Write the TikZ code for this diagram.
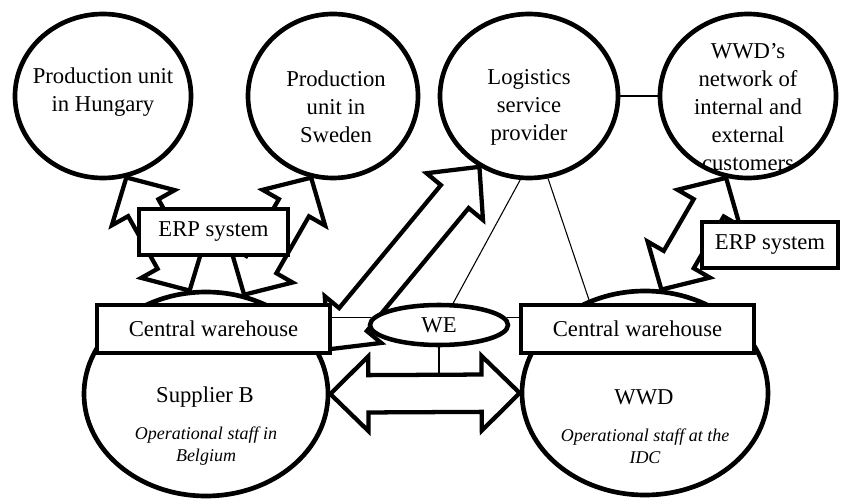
\documentclass[tikz,border=0pt]{standalone}
\usepackage{fontspec}
\setmainfont{Liberation Serif}
\usetikzlibrary{shapes.geometric,calc}
\pgfdeclarelayer{background}
\pgfsetlayers{background,main}
\tikzset{
  circ/.style={ellipse, draw, line width=3.5pt, inner sep=0pt},
  boxn/.style={rectangle, draw, line width=3.5pt, fill=white, inner sep=0pt, font=\fontsize{17}{21}\selectfont},
  weell/.style={ellipse, draw, line width=3.4pt, fill=white, inner sep=0pt, font=\fontsize{17}{21}\selectfont},
  fatarrow/.style={draw, line width=3.2pt, fill=white, line join=miter},
  thinline/.style={line width=0.8pt},
  lbl/.style={align=center, font=\fontsize{17}{21}\selectfont, inner sep=0pt},
  ital/.style={align=center, font=\fontsize{13.5}{16.5}\selectfont\itshape, inner sep=0pt},
}
\newcommand\fatdouble[5]{%
  \coordinate (fdA) at (#1);
  \coordinate (fdB) at (#2);
  \coordinate (fdH) at ($(fdA)!#5!(fdB)$);
  \coordinate (fdK) at ($(fdB)!#5!(fdA)$);
  \draw[fatarrow] (fdA) -- ($(fdH)!#4!90:(fdB)$) -- ($(fdH)!#3!90:(fdB)$)
    -- ($(fdK)!#3!-90:(fdA)$) -- ($(fdK)!#4!-90:(fdA)$) -- (fdB)
    -- ($(fdK)!#4!90:(fdA)$) -- ($(fdK)!#3!90:(fdA)$)
    -- ($(fdH)!#3!-90:(fdB)$) -- ($(fdH)!#4!-90:(fdB)$) -- cycle;
}
\begin{document}
\begin{tikzpicture}[x=0.75pt,y=-0.75pt]
\useasboundingbox (0,0) rectangle (842,499);
% circles
\node[circ, minimum width=132pt, minimum height=123pt] (hung) at (103,96) {};
\node[circ, minimum width=127.5pt, minimum height=123pt] (swe) at (333,96) {};
\node[circ, minimum width=133.5pt, minimum height=123pt] (log) at (529,96) {};
\node[circ, minimum width=132pt, minimum height=123pt] (net) at (748,96) {};
\node[circ, minimum width=183pt, minimum height=153pt] (supB) at (206,394) {};
\node[circ, minimum width=184.5pt, minimum height=153pt] (wwd) at (645,393) {};
% boxes
\node[boxn, minimum width=111.75pt, minimum height=34.5pt] (erpL) at (213.5,232) {ERP system};
\node[boxn, minimum width=102pt, minimum height=34.5pt] (erpR) at (770,245) {ERP system};
\node[boxn, minimum width=174.75pt, minimum height=36pt] (cwL) at (213.5,329) {Central warehouse};
\node[boxn, minimum width=174.75pt, minimum height=36pt] (cwR) at (637.5,329) {Central warehouse};
\node[weell, minimum width=103.5pt, minimum height=30pt] (WE) at (439,325) {WE};
% texts
\node[lbl] (hungT) at (103,92) {Production unit\\in Hungary};
\node[lbl] (sweT) at (336,107) {Production\\unit in\\Sweden};
\node[lbl] (logT) at (529,107) {Logistics\\service\\provider};
\node[lbl] (netT) at (748,107) {WWD’s\\network of\\internal and\\external\\customers};
\node[lbl] (supT) at (205,397) {Supplier B};
\node[ital] (supI) at (206,446) {Operational staff in\\Belgium};
\node[lbl] (wwdT) at (644,397) {WWD};
\node[ital] (wwdI) at (645,446) {Operational staff at the\\IDC};
% helper coordinates
\coordinate (bdl) at ($(cwL.south east)+(-4,-6)$);
\coordinate (dmid) at ($(supB.east)!0.5!(wwd.west)$);
\coordinate (dtop) at ($(dmid)+(0pt,14pt)$);
\begin{pgfonlayer}{background}
\fatdouble{supB.99}{hung.-74}{13pt}{27pt}{26pt}
\fatdouble{supB.69}{swe.-105}{13pt}{27pt}{26pt}
\fatdouble{bdl}{log.-125}{13.5pt}{27.5pt}{29pt}
\fatdouble{wwd.81}{net.-105}{13pt}{27pt}{26pt}
\fatdouble{supB.east}{wwd.west}{14pt}{28pt}{28.5pt}
\draw[thinline] (log.east) -- (net.west);
\draw[thinline] (log.-96) -- (WE.57);
\draw[thinline] (log.-77) -- (wwd.121);
\draw[thinline] (WE.174) -- (WE.174 -| cwL.east);
\draw[thinline] (WE.6) -- (WE.6 -| cwR.west);
\draw[thinline] (WE.south) -- (WE.south |- dtop);
\end{pgfonlayer}
\end{tikzpicture}
\end{document}
